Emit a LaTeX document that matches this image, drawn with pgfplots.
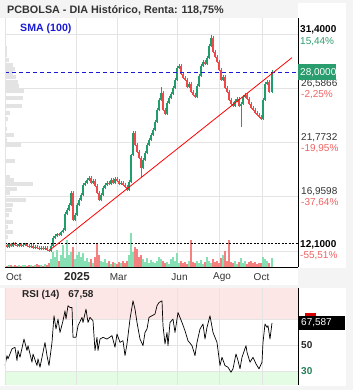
\documentclass[border=0pt]{standalone}
\usepackage{pgfplots}
\usepackage{pgfplotstable}
\pgfplotsset{compat=1.18}
\usepackage{fontspec}
\setmainfont{Liberation Sans}
\definecolor{cup}{HTML}{1F9E6C}
\definecolor{cdn}{HTML}{F04848}
\definecolor{vup}{HTML}{86E0B4}
\definecolor{vdn}{HTML}{F58080}
\definecolor{gridc}{HTML}{E4E4E4}
\definecolor{pgreen}{HTML}{2E9E6E}
\definecolor{pred}{HTML}{F06262}
\definecolor{boxg}{HTML}{2A9D6F}
\definecolor{rsipink}{HTML}{FDE6E6}
\definecolor{rsigreen}{HTML}{E4FBE4}
\definecolor{titlebg}{HTML}{F4F4F4}
\definecolor{profc}{HTML}{E3E3E3}
\definecolor{smablue}{HTML}{1A1AD6}

% up candles: x, body bottom (open), body top (close), volume
\pgfplotstableread{
x b t v
5 12.55 12.63 2
9 12.46 12.72 2
13 12.55 12.81 1
19 12.55 12.72 2
23 12.55 12.63 2
25 12.63 12.72 2
31 12.46 12.55 2
35 12.37 12.46 2
41 12.28 12.37 2
45 12.28 12.37 3
51 12.10 12.55 8
53 12.55 13.26 15
55 13.26 13.44 10
57 13.44 13.61 17
61 13.53 13.79 12
63 13.79 13.97 22
65 13.97 15.40 9
67 15.40 15.75 27
69 15.75 16.20 12
71 16.20 17.27 15
75 14.86 15.31 8
77 15.31 16.20 12
79 16.20 16.64 15
81 16.64 17.09 10
83 17.09 17.98 14
85 17.98 18.16 6
87 18.16 18.43 9
89 18.43 18.60 5
93 18.16 18.34 4
101 16.64 17.09 6
103 17.09 17.71 5
105 17.71 17.98 8
107 17.98 18.16 4
111 18.07 18.43 3
115 18.16 18.52 4
121 18.07 18.16 4
129 17.54 18.25 12
131 18.25 20.64 34
133 20.64 22.61 15
143 19.50 20.21 8
145 20.21 20.83 5
147 20.83 21.54 9
149 21.54 21.99 4
151 21.99 22.44 7
153 22.44 22.88 5
155 22.88 23.59 4
157 23.59 24.66 6
159 24.66 25.55 10
161 25.55 26.18 8
167 24.31 25.29 5
169 25.29 25.73 3
171 25.73 26.09 8
173 26.09 26.62 10
175 26.62 27.34 6
177 27.34 28.41 14
179 28.41 28.58 4
189 26.71 26.98 6
197 25.82 26.80 6
199 26.80 27.69 4
201 27.69 28.58 7
203 28.58 28.94 3
207 28.76 29.30 10
209 29.30 30.37 6
211 30.37 31.08 4
223 27.34 27.60 12
235 25.02 25.47 6
237 25.47 25.64 3
241 25.02 25.20 9
243 25.20 25.82 4
245 25.82 26.00 6
263 23.86 25.55 10
265 25.55 26.98 8
267 26.98 27.16 6
272 26.27 28.05 9
}\upcandles

% down candles: x, body bottom (close), body top (open), volume
\pgfplotstableread{
x b t v
7 12.46 12.63 1
11 12.55 12.72 2
15 12.63 12.81 2
17 12.55 12.63 1
21 12.55 12.72 1
27 12.55 12.72 1
29 12.46 12.55 2
33 12.37 12.55 1
37 12.37 12.46 3
39 12.28 12.37 2
43 12.28 12.37 1
47 12.19 12.37 2
49 12.10 12.19 4
59 13.53 13.61 6
73 14.86 17.27 20
91 18.16 18.60 8
95 17.89 18.34 10
97 17.27 17.89 23
99 16.64 17.27 12
109 18.07 18.16 6
113 18.16 18.43 5
117 18.34 18.52 3
119 18.07 18.34 5
123 17.98 18.16 6
125 17.80 17.98 4
127 17.54 17.80 6
135 21.54 22.61 20
137 20.92 21.54 18
139 20.39 20.92 10
141 19.50 20.39 12
163 24.66 26.18 6
165 24.31 24.66 4
181 27.87 28.58 6
183 27.51 27.87 4
185 27.34 27.51 5
187 26.71 27.34 3
191 26.27 26.98 27
193 26.00 26.27 5
195 25.82 26.00 4
205 28.76 28.94 5
213 29.83 31.08 8
215 29.39 29.83 5
217 28.94 29.39 6
219 28.23 28.94 4
221 27.34 28.23 9
225 26.62 27.60 16
227 26.27 26.62 6
229 25.55 26.27 27
231 25.20 25.55 5
233 25.02 25.20 4
239 25.02 25.64 5
247 25.64 26.00 3
249 25.20 25.64 5
251 24.84 25.20 6
253 24.66 24.84 4
255 24.40 24.66 5
257 24.22 24.40 3
259 24.04 24.22 4
261 23.86 24.04 4
269 26.27 27.16 4
}\dncandles

% volume profile: right edge, price level
\pgfplotstableread{
x y
7 30.19
7 29.88
7 29.52
9 29.07
13 28.67
15 28.32
13 27.96
16 27.56
18 27.16
19 26.80
24 26.31
23 25.69
22 25.02
10 24.35
8 23.82
7 22.93
14 22.39
7 21.99
21 21.50
6 21.05
15 20.07
6 19.72
10 18.69
14 18.38
33 18.03
17 17.58
10 17.22
26 16.64
13 16.20
12 15.71
9 15.26
13 14.68
8 14.24
13 13.75
8 13.30
13 12.63
}\profile

\pgfplotstableread{
x r
5 34.6
7 42.3
8 39.8
12 47.5
15 48.7
17 38.5
18 46.2
20 41.0
24 55.1
27 46.2
28 50.0
32 37.2
33 43.6
37 34.6
38 39.8
40 33.3
42 41.0
45 52.5
47 42.3
49 34.6
52 52.5
54 73.1
56 62.8
58 70.5
60 60.2
63 69.2
65 76.9
66 70.5
68 80.8
70 79.5
72 79.5
73 56.4
76 56.4
78 65.4
82 71.8
83 67.9
86 78.2
88 67.9
90 71.8
93 69.2
95 46.2
97 56.4
98 46.2
100 55.1
103 56.4
107 55.1
112 57.7
115 48.7
117 59.0
120 52.5
123 53.8
125 42.3
127 51.3
130 70.5
133 84.6
135 78.2
137 67.9
140 55.1
143 50.0
145 60.2
147 62.8
149 71.8
152 73.1
155 74.4
157 80.8
159 83.3
162 84.6
163 65.4
165 51.3
167 60.2
168 50.0
170 67.9
173 70.5
175 60.2
178 75.6
182 67.9
185 61.5
188 53.8
192 50.0
195 42.3
197 52.5
200 62.8
203 66.7
205 55.1
207 64.1
210 73.1
213 60.2
217 52.5
220 34.6
222 41.0
225 34.6
228 33.3
231 29.5
233 32.1
236 43.6
238 38.5
240 32.1
242 41.0
246 50.0
247 44.9
250 37.2
253 41.0
256 35.9
259 32.1
262 37.2
263 52.5
265 66.7
267 64.1
268 65.4
270 55.1
272 67.6
}\rsi

\pgfplotsset{
  baseax/.style={scale only axis, anchor=south west, xmin=5, xmax=298,
    axis line style={draw=none}, major tick length=0pt,
    xticklabels={}, yticklabels={}},
  candle/.style={draw=none, mark=none, error bars/.cd, y dir=plus, y explicit, error mark=none,
    error bar style={draw=#1, line width=2pt, line cap=butt}},
  wick/.style={draw=none, mark=none, error bars/.cd, y dir=plus, y explicit, error mark=none,
    error bar style={draw=#1, line width=0.6pt}},
}

\begin{document}
\begin{tikzpicture}
\path[use as bounding box, fill=white] (0pt,0pt) rectangle (353pt,-390pt);
\fill[titlebg] (0pt,0pt) rectangle (298pt,-18pt);
\fill[titlebg] (0pt,0pt) rectangle (353pt,-3pt);
\fill[titlebg] (346pt,0pt) rectangle (353pt,-390pt);
\fill[titlebg] (298pt,-268pt) rectangle (346pt,-288pt);
\fill[titlebg] (0pt,-285pt) rectangle (298pt,-288pt);
\fill[titlebg] (0pt,-386pt) rectangle (353pt,-390pt);

% ---- price panel: grid and volume profile
\begin{axis}[baseax, at={(5pt,-267pt)}, width=293pt, height=249pt,
  ymin=10.674, ymax=32.826,
  xtick={76,117,177,219,262}, ytick={12.1,16.9598,21.7732,26.5866,31.4},
  grid=major, grid style={gridc, line width=0.9pt}]
\addplot[xcomb, profc, line width=4pt, no markers] table[x=x,y=y] {\profile};
\end{axis}

% ---- volume bars
\begin{axis}[baseax, at={(5pt,-267pt)}, width=293pt, height=249pt,
  ymin=0, ymax=249, xtick=\empty, ytick=\empty]
\addplot[ycomb, vup, line width=1.8pt, line cap=butt, no markers] table[x=x,y=v] {\upcandles};
\addplot[ycomb, vdn, line width=1.8pt, line cap=butt, no markers] table[x=x,y=v] {\dncandles};
\end{axis}

% ---- candles and lines
\begin{axis}[baseax, at={(5pt,-267pt)}, width=293pt, height=249pt,
  ymin=10.674, ymax=32.826, xtick=\empty, ytick=\empty]
% wicks
\addplot[wick=cup]
  table[x=x, y expr=\thisrow{b}-0.13, y error expr=\thisrow{t}-\thisrow{b}+0.26] {\upcandles};
\addplot[wick=cdn]
  table[x=x, y expr=\thisrow{b}-0.13, y error expr=\thisrow{t}-\thisrow{b}+0.26] {\dncandles};
% bodies
\addplot[candle=cup]
  table[x=x, y=b, y error expr=\thisrow{t}-\thisrow{b}] {\upcandles};
\addplot[candle=cdn]
  table[x=x, y=b, y error expr=\thisrow{t}-\thisrow{b}] {\dncandles};
% long wicks
\addplot[cdn, line width=0.6pt] coordinates {(141,18.69) (141,19.50)};
\addplot[cup, line width=0.6pt] coordinates {(241,23.15) (241,25.02)};
\addplot[cup, line width=0.6pt] coordinates {(211,31.08) (211,31.35)};
\addplot[cup, line width=0.6pt] coordinates {(161,26.18) (161,26.70)};
% reference lines
\addplot[smablue, line width=0.9pt, dash pattern=on 4pt off 3pt] coordinates {(5,28) (298,28)};
\addplot[black, line width=0.7pt, dash pattern=on 2pt off 1.5pt] coordinates {(5,12.8) (298,12.8)};
\addplot[red, line width=0.8pt] coordinates {(50,12.19) (292,29.30)};
\end{axis}

% frame lines price panel
\draw[gridc, line width=0.8pt] (5pt,-18pt) -- (5pt,-267pt);
\draw[black, line width=1pt] (5pt,-267pt) -- (298pt,-267pt);
\draw[black, line width=1pt] (298pt,-18pt) -- (298pt,-267pt);

% ---- RSI panel background zones
\begin{axis}[baseax, at={(5pt,-385pt)}, width=293pt, height=97pt,
  ymin=19.6, ymax=94.5, xtick=\empty, ytick=\empty]
\addplot[draw=none, fill=rsipink] coordinates {(5,70) (298,70) (298,94.5) (5,94.5) (5,70)};
\addplot[draw=none, fill=rsigreen] coordinates {(5,19.6) (298,19.6) (298,30) (5,30) (5,19.6)};
\end{axis}
% ---- RSI grid and line
\begin{axis}[baseax, at={(5pt,-385pt)}, width=293pt, height=97pt,
  ymin=19.6, ymax=94.5,
  xtick={76,117,177,219,262}, ytick={30,50,70},
  grid=major, grid style={gridc, line width=0.9pt}]
\addplot[black, line width=0.7pt, line join=round] table[x=x,y=r] {\rsi};
\end{axis}
\draw[gridc, line width=0.8pt] (5pt,-288pt) -- (5pt,-385pt);
\draw[black, line width=1pt] (298pt,-288pt) -- (298pt,-385pt);

% ---- texts
\node[anchor=west, inner sep=0pt, font=\bfseries\fontsize{10.8}{12}\selectfont, text=black!80] at (7pt,-10pt) {PCBOLSA - DIA Histórico, Renta: 118,75\%};
\node[anchor=west, inner sep=0pt, font=\bfseries\fontsize{10.6}{12}\selectfont, text=smablue] at (20pt,-29pt) {SMA (100)};

\begin{scope}[every node/.style={anchor=west, inner sep=0pt, font=\fontsize{10}{12}\selectfont}]
\node[font=\bfseries\fontsize{10}{12}\selectfont] at (300pt,-30pt) {31,4000};
\node[text=pgreen] at (300pt,-42pt) {15,44\%};
\node[text=black!80] at (301pt,-84pt) {26,5866};
\node[text=pred] at (301pt,-95pt) {-2,25\%};
\node[text=black!80] at (301pt,-138pt) {21,7732};
\node[text=pred] at (301pt,-149pt) {-19,95\%};
\node[text=black!80] at (301pt,-192pt) {16,9598};
\node[text=pred] at (301pt,-203pt) {-37,64\%};
\node[font=\bfseries\fontsize{10}{12}\selectfont] at (300pt,-245pt) {12,1000};
\node[text=pred] at (300pt,-256pt) {-55,51\%};
\end{scope}
\fill[boxg] (298pt,-64.5pt) rectangle (336pt,-80pt);
\node[anchor=west, inner sep=0pt, text=white, font=\fontsize{10}{12}\selectfont] at (300pt,-72.3pt) {28,0000};

% x labels
\begin{scope}[every node/.style={inner sep=0pt, font=\fontsize{10}{12}\selectfont, text=black!80}]
\node[anchor=west] at (6pt,-277pt) {Oct};
\node[font=\bfseries\fontsize{11.5}{13}\selectfont, text=black!85] at (77pt,-277pt) {2025};
\node at (118.5pt,-277pt) {Mar};
\node at (179.5pt,-277pt) {Jun};
\node at (222pt,-277pt) {Ago};
\node at (261.5pt,-277pt) {Oct};
\end{scope}

% RSI texts
\node[anchor=west, inner sep=0pt, font=\bfseries\fontsize{10}{12}\selectfont, text=black!85] at (22pt,-295pt) {RSI (14)\hspace{9pt}67,58};
\fill[red!85!black] (305pt,-313pt) rectangle (316pt,-316pt);
\fill[black] (299pt,-316pt) rectangle (345pt,-330pt);
\node[anchor=west, inner sep=0pt, text=white, font=\fontsize{10}{12}\selectfont] at (301pt,-323pt) {67,587};
\node[anchor=west, inner sep=0pt, font=\bfseries\fontsize{10}{12}\selectfont, text=black!85] at (301pt,-345pt) {50};
\node[anchor=west, inner sep=0pt, font=\bfseries\fontsize{10}{12}\selectfont, text=pgreen!80!black] at (301pt,-371pt) {30};
\end{tikzpicture}
\end{document}
